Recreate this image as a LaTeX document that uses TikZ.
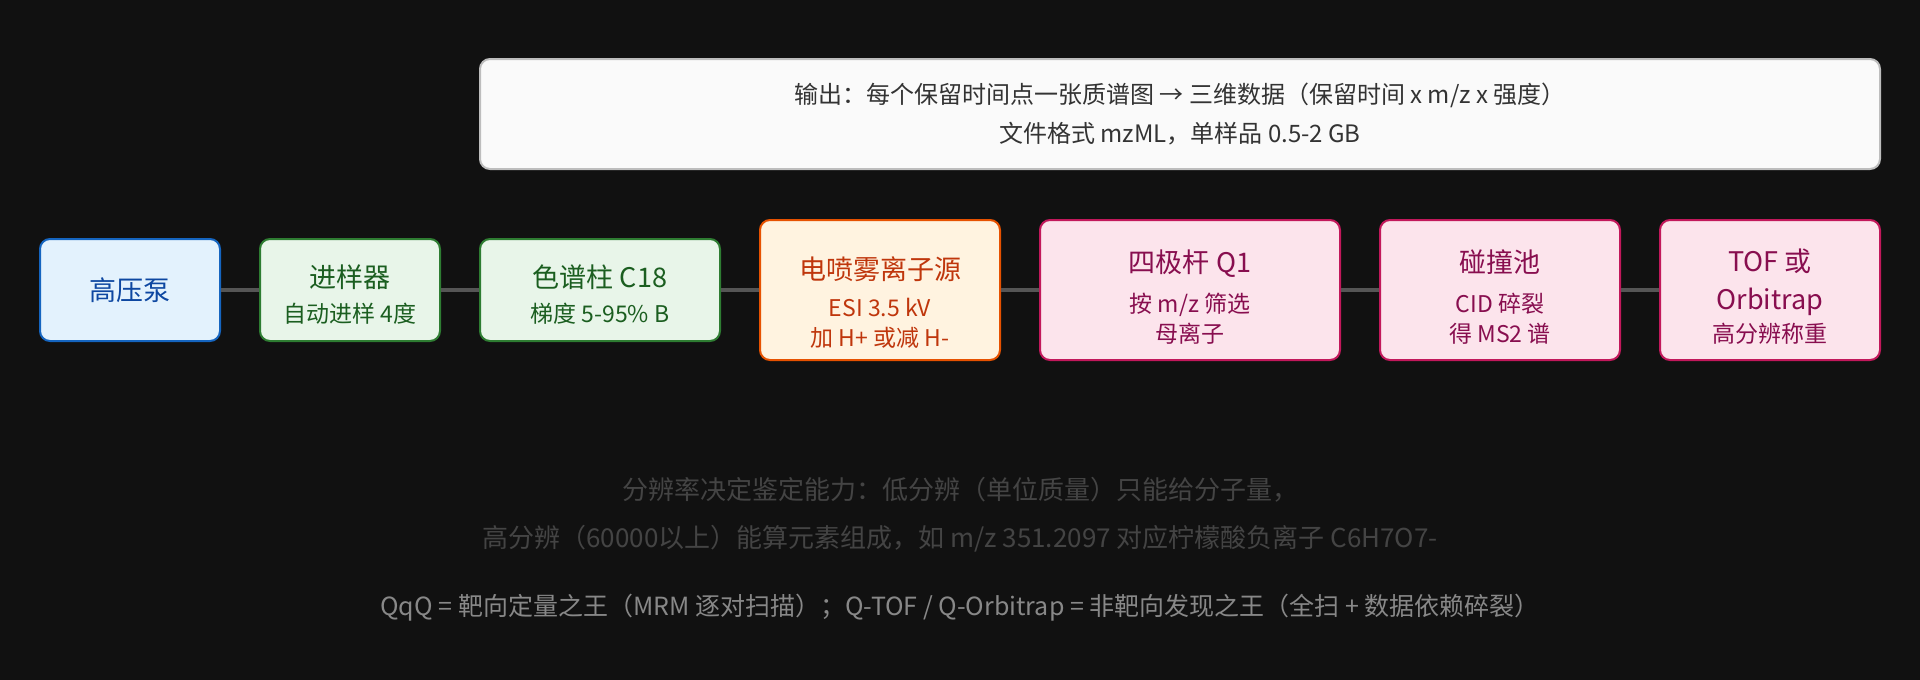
\documentclass[tikz,border=0pt]{standalone}
\usepackage{fontspec}
\setmainfont{Noto Sans CJK SC}
\usetikzlibrary{calc}
\definecolor{bgdark}{RGB}{17,17,17}
\definecolor{pumpfill}{RGB}{227,242,253}
\definecolor{pumpline}{RGB}{21,101,192}
\definecolor{pumptext}{RGB}{13,71,161}
\definecolor{lcfill}{RGB}{232,245,233}
\definecolor{lcline}{RGB}{46,125,50}
\definecolor{lctext}{RGB}{27,94,32}
\definecolor{esifill}{RGB}{255,243,224}
\definecolor{esiline}{RGB}{230,81,0}
\definecolor{esitext}{RGB}{191,54,12}
\definecolor{msfill}{RGB}{252,228,236}
\definecolor{msline}{RGB}{194,24,91}
\definecolor{mstext}{RGB}{136,14,79}
\definecolor{notefill}{RGB}{250,250,250}
\definecolor{noteline}{RGB}{189,189,189}
\definecolor{notetext}{RGB}{51,51,51}
\definecolor{dimtext}{RGB}{68,68,68}
\definecolor{softtext}{RGB}{136,136,136}
\definecolor{linkgray}{RGB}{85,85,85}

% title line, optional strut height pushes the block down
\newcommand{\ttl}[2][0pt]{{\fontsize{27pt}{30pt}\selectfont\rule{0pt}{#1}#2}}

\begin{document}
\begin{tikzpicture}[x=1pt,y=-1pt,
  box/.style={draw, line width=2pt, rounded corners=10pt, align=center,
    inner sep=0pt, font=\fontsize{23pt}{30pt}\selectfont},
  small/.style={box, minimum height=102pt},
  tall/.style={box, minimum height=140pt},
  pumpbox/.style={small, fill=pumpfill, draw=pumpline, text=pumptext},
  lcbox/.style={small, fill=lcfill, draw=lcline, text=lctext},
  esibox/.style={tall, fill=esifill, draw=esiline, text=esitext},
  msbox/.style={tall, fill=msfill, draw=msline, text=mstext},
  link/.style={draw=linkgray, line width=4pt},
  remark/.style={font=\fontsize{26pt}{30pt}\selectfont}]
					\fill[bgdark] (0,0) rectangle (1920,680);
					
					% top note
					\node[box, fill=notefill, draw=noteline, text=notetext,
					  minimum width=1400pt, minimum height=110pt,
					  font=\fontsize{24pt}{39pt}\selectfont] (output) at (1180,114)
					  {输出：每个保留时间点一张质谱图 → 三维数据（保留时间 x m/z x 强度）\\文件格式 mzML，单样品 0.5-2 GB};
					
					% LC-MS chain
					\node[pumpbox, minimum width=180pt] (pump) at (130,290) {\ttl{高压泵}};
					\node[lcbox, minimum width=180pt] (sampler) at (350,290) {\ttl[31pt]{进样器}\\[5pt]自动进样 4度};
					\node[lcbox, minimum width=240pt] (column) at (600,290) {\ttl[31pt]{色谱柱 C18}\\[5pt]梯度 5-95\% B};
					\node[esibox, minimum width=240pt] (esi) at (880,290) {\ttl[48pt]{电喷雾离子源}\\[7pt]ESI 3.5 kV\\加 H+ 或减 H-};
					\node[msbox, minimum width=300pt] (quad) at (1190,290) {\ttl[36pt]{四极杆 Q1}\\[10pt]按 m/z 筛选\\母离子};
					\node[msbox, minimum width=240pt] (cell) at (1500,290) {\ttl[36pt]{碰撞池}\\[10pt]CID 碎裂\\得 MS2 谱};
					\node[msbox, minimum width=220pt] (tof) at (1770,290) {\ttl[35pt]{TOF 或}\\[8pt]\ttl{Orbitrap}\\[3pt]高分辨称重};
					
					\draw[link] (pump) -- (sampler);
					\draw[link] (sampler) -- (column);
					\draw[link] (column) -- (esi);
					\draw[link] (esi) -- (quad);
					\draw[link] (quad) -- (cell);
					\draw[link] (cell) -- (tof);
					
					% remarks
					\node[remark, text=dimtext] (res1) at (960,490) {分辨率决定鉴定能力：低分辨（单位质量）只能给分子量，};
					\node[remark, text=dimtext] (res2) at (960,539) {高分辨（60000以上）能算元素组成，如 m/z 351.2097 对应柠檬酸负离子 C6H7O7-};
					\node[remark, text=softtext, font=\fontsize{25pt}{30pt}\selectfont] (kings) at (960,608) {QqQ = 靶向定量之王（MRM 逐对扫描）；Q-TOF / Q-Orbitrap = 非靶向发现之王（全扫 + 数据依赖碎裂）};
				\end{tikzpicture}
\end{document}
